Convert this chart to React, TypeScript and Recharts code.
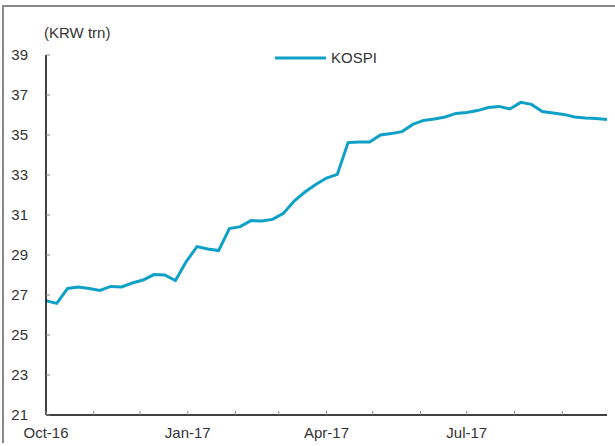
import React from "react";
import { LineChart, Line, XAxis, YAxis } from "recharts";

const dates: string[] = [
  "2016-10-01", "2016-10-08", "2016-10-15", "2016-10-22", "2016-10-29",
  "2016-11-05", "2016-11-12", "2016-11-19", "2016-11-26",
  "2016-12-03", "2016-12-10", "2016-12-17", "2016-12-24", "2016-12-31",
  "2017-01-07", "2017-01-14", "2017-01-21", "2017-01-28",
  "2017-02-04", "2017-02-11", "2017-02-18", "2017-02-25",
  "2017-03-04", "2017-03-11", "2017-03-18", "2017-03-25",
  "2017-04-01", "2017-04-08", "2017-04-15", "2017-04-22", "2017-04-29",
  "2017-05-06", "2017-05-13", "2017-05-20", "2017-05-27",
  "2017-06-03", "2017-06-10", "2017-06-17", "2017-06-24",
  "2017-07-01", "2017-07-08", "2017-07-15", "2017-07-22", "2017-07-29",
  "2017-08-05", "2017-08-12", "2017-08-19", "2017-08-26",
  "2017-09-02", "2017-09-09", "2017-09-16", "2017-09-23", "2017-09-30",
];

const kospi: number[] = [
  26.72, 26.58, 27.33, 27.4, 27.32,
  27.23, 27.43, 27.4, 27.6,
  27.75, 28.02, 28.0, 27.72, 28.67,
  29.42, 29.3, 29.22, 30.32,
  30.42, 30.72, 30.7, 30.78,
  31.08, 31.7, 32.15, 32.53,
  32.85, 33.03, 34.62, 34.65, 34.65,
  35.0, 35.07, 35.17, 35.53,
  35.73, 35.8, 35.9, 36.08,
  36.13, 36.22, 36.37, 36.43, 36.3,
  36.63, 36.53, 36.17, 36.1,
  36.03, 35.9, 35.85, 35.82, 35.77,
];

const monthTicks: string[] = [
  "2016-10-01", "2016-11-01", "2016-12-01", "2017-01-01", "2017-02-01", "2017-03-01",
  "2017-04-01", "2017-05-01", "2017-06-01", "2017-07-01", "2017-08-01", "2017-09-01",
];
const monthLabels: string[] = ["Oct-16", "", "", "Jan-17", "", "", "Apr-17", "", "", "Jul-17", "", ""];

const yTicks: number[] = [21, 23, 25, 27, 29, 31, 33, 35, 37, 39];

const seriesName = "KOSPI";
const unitLabel = "(KRW trn)";

const ts = (d: string) => Date.parse(d + "T00:00:00Z");

const data = dates.map((d, i) => ({ t: ts(d), v: kospi[i] }));
const tickValues = monthTicks.map(ts);
const labelMap: Record<number, string> = {};
tickValues.forEach((t, i) => (labelMap[t] = monthLabels[i]));

const FONT = "'Liberation Sans', Arial, sans-serif";
const LINE_COLOR = "#0fa0c8";
const FS = 15;

const XTick = (props: any) => {
  const { x, y, payload } = props;
  const label = labelMap[payload.value];
  return (
    <g>
      <line x1={x} x2={x} y1={y} y2={y - 4} stroke="#888" strokeWidth={1} />
      {label ? (
        <text x={x} y={y + 23} textAnchor="middle" fontSize={FS} fill="#333" fontFamily={FONT}>
          {label}
        </text>
      ) : null}
    </g>
  );
};

const YTick = (props: any) => {
  const { x, y, payload } = props;
  return (
    <g>
      <line x1={x} x2={x + 4} y1={y} y2={y} stroke="#888" strokeWidth={1} />
      <text x={x - 18} y={y + 5} textAnchor="end" fontSize={FS} fill="#333" fontFamily={FONT}>
        {payload.value}
      </text>
    </g>
  );
};

export default function App() {
  return (
    <div style={{ position: "absolute", left: 0, top: 0, width: 615, height: 446, background: "#fff" }}>
      <div
        style={{
          position: "absolute",
          left: 2,
          top: 5,
          right: 0,
          bottom: 3,
          borderTop: "2px solid #888",
          borderLeft: "2px solid #888",
        }}
      />
      <div
        style={{
          position: "absolute",
          left: 44,
          top: 24,
          fontSize: FS,
          color: "#333",
          fontFamily: FONT,
          whiteSpace: "nowrap",
        }}
      >
        {unitLabel}
      </div>
      <div style={{ position: "absolute", left: 0, top: 0 }}>
        <LineChart width={615} height={446} data={data} margin={{ top: 55, right: 8, bottom: 1, left: 0 }}>
          <XAxis
            dataKey="t"
            type="number"
            scale="time"
            domain={[ts(dates[0]), ts(dates[dates.length - 1])]}
            ticks={tickValues}
            tick={<XTick />}
            tickSize={0}
            tickMargin={0}
            tickLine={false}
            height={30}
            axisLine={{ stroke: "#000", strokeWidth: 1.5 }}
            interval={0}
            allowDataOverflow
          />
          <YAxis
            domain={[21, 39]}
            ticks={yTicks}
            width={46}
            tick={<YTick />}
            tickSize={0}
            tickMargin={0}
            tickLine={false}
            axisLine={{ stroke: "#000", strokeWidth: 1.5 }}
            interval={0}
          />
          <Line
            type="linear"
            dataKey="v"
            name={seriesName}
            stroke={LINE_COLOR}
            strokeWidth={3}
            dot={false}
            isAnimationActive={false}
          />
        </LineChart>
      </div>
      <div style={{ position: "absolute", left: 270, top: 48, width: 130, height: 20 }}>
        <svg width={130} height={20}>
          <line x1={5} x2={56} y1={10} y2={10} stroke={LINE_COLOR} strokeWidth={3} />
          <text x={61} y={15} fontSize={FS} fill="#333" fontFamily={FONT}>
            {seriesName}
          </text>
        </svg>
      </div>
    </div>
  );
}
